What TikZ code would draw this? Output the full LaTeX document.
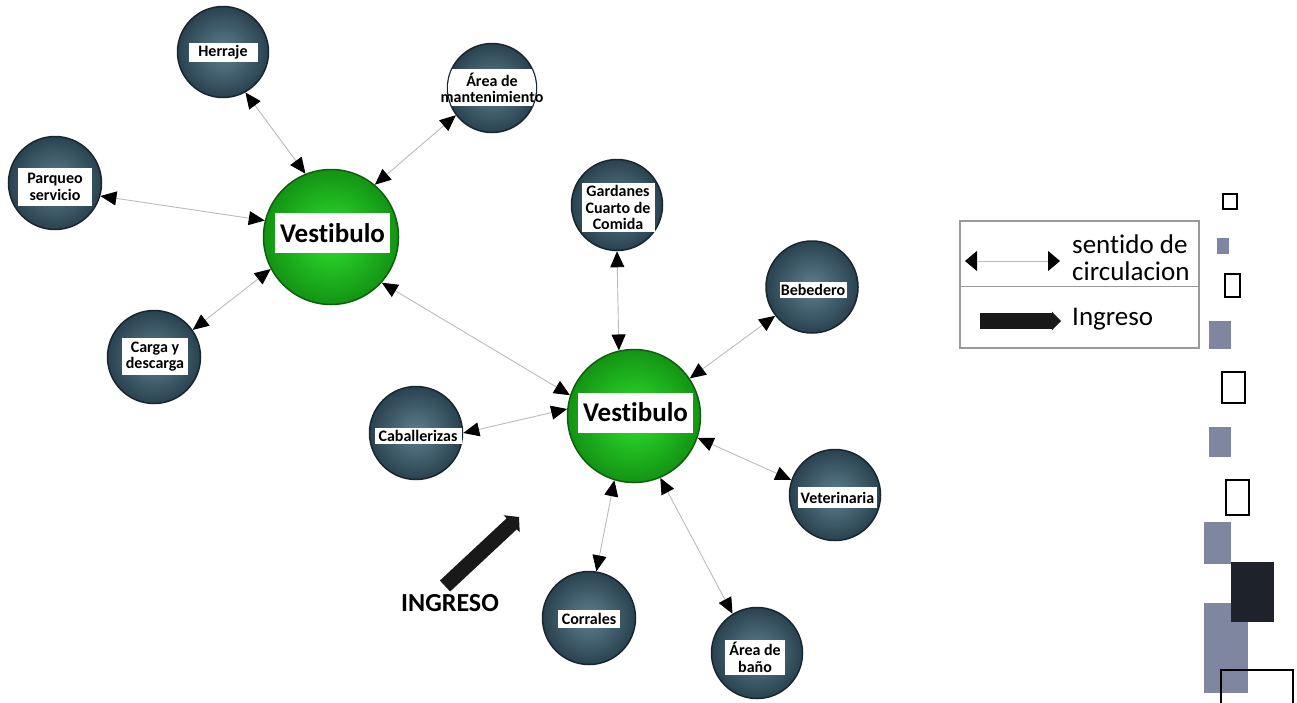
\documentclass[tikz,border=0pt]{standalone}
\usepackage{fontspec}
\setmainfont{Carlito}[Ligatures=NoCommon]
\usetikzlibrary{arrows.meta}
\definecolor{slateIn}{HTML}{5E808F}
\definecolor{slateOut}{HTML}{2A4250}
\definecolor{slateLine}{HTML}{1A262E}
\definecolor{greenIn}{HTML}{2FE02F}
\definecolor{greenOut}{HTML}{139413}
\definecolor{greenLine}{HTML}{0E5E0E}
\definecolor{connGray}{HTML}{BBBBBB}
\definecolor{legGray}{HTML}{9A9A9A}
\definecolor{decoGray}{HTML}{7F87A0}
\definecolor{decoDark}{HTML}{1E232B}
\begin{document}
\begin{tikzpicture}[x=1pt,y=-1pt,
  room/.style={circle, minimum size=#1, inner sep=0pt, draw=slateLine, line width=1.5pt,
    shading=radial, inner color=slateIn, outer color=slateOut},
  hub/.style={circle, minimum size=#1, inner sep=0pt, draw=greenLine, line width=1.5pt,
    shading=radial, inner color=greenIn, outer color=greenOut},
  tag/.style={fill=white, inner sep=0pt, align=center, font=\fontsize{16}{16.5}\selectfont\bfseries},
  hubtag/.style={fill=white, inner sep=0pt, minimum width=115pt, minimum height=40pt,
    font=\fontsize{27}{29}\selectfont\bfseries},
  conn/.style={draw=connGray, line width=0.9pt,
    {Triangle[length=16pt,width=14pt,color=black]}-{Triangle[length=16pt,width=14pt,color=black]}},
  deco/.style={draw=black, line width=2.2pt},
]
\useasboundingbox (0,0) rectangle (1297,702);

% circles
\node[room=91pt] (herraje) at (223,52) {};
\node[room=89pt] (mant) at (492,88) {};
\node[hub=135pt] (v1) at (331,237) {};
\node[room=93pt] (parq) at (55,183) {};
\node[room=93pt] (carga) at (154,357) {};
\node[room=91pt] (gard) at (617,205) {};
\node[hub=133pt] (v2) at (634,416) {};
\node[room=93pt] (cab) at (416,433) {};
\node[room=92pt] (beb) at (812,287) {};
\node[room=91pt] (vet) at (835,495) {};
\node[room=93pt] (corr) at (589,618) {};
\node[room=91pt] (bano) at (757,653) {};

% white band of Area de mantenimiento
\begin{scope}
  \clip (mant.center) circle[radius=44pt];
  \fill[white] (440,69) rectangle (545,106);
\end{scope}

% labels
\node[tag, minimum width=69pt, minimum height=19pt] (herrajeT) at (223,52.5) {Herraje};
\node[tag, fill=none] (mantT) at (492,88) {Área de\\mantenimiento};
\node[tag, minimum width=74pt, minimum height=38pt] (parqT) at (55,187) {Parqueo\\servicio};
\node[tag, minimum width=66pt, minimum height=37pt] (cargaT) at (155,356.5) {Carga y\\descarga};
\node[tag, minimum width=73pt, minimum height=49pt] (gardT) at (618,207.5) {Gardanes\\Cuarto de\\Comida};
\node[tag, minimum width=87pt, minimum height=16pt] (cabT) at (418,435.5) {Caballerizas};
\node[tag, minimum width=67pt, minimum height=16pt] (bebT) at (813,289.5) {Bebedero};
\node[tag, minimum width=79pt, minimum height=21pt] (vetT) at (837.5,497.5) {Veterinaria};
\node[tag, minimum width=62pt, minimum height=18pt] (corrT) at (589,619) {Corrales};
\node[tag, minimum width=60pt, minimum height=35pt] (banoT) at (755,657.5) {Área de\\baño};
\node[hubtag] (v1T) at (332.5,233) {Vestibulo};
\node[hubtag] (v2T) at (635.5,412.5) {Vestibulo};

% connectors
\draw[conn] (herraje.-61) -- (v1.112);
\draw[conn] (mant.217) -- (v1.50);
\draw[conn] (parq.-16) -- (v1.166);
\draw[conn] (carga.35) -- (v1.208);
\draw[conn] (v1.-42) -- (v2.162);
\draw[conn] (gard.-90) -- (v2.103);
\draw[conn] (beb.218) -- (v2.34);
\draw[conn] (cab.0) -- (v2.174);
\draw[conn] (vet.161) -- (v2.-19);
\draw[conn] (corr.81) -- (v2.-107);
\draw[conn] (bano.122) -- (v2.-67);

% ingreso arrow
\coordinate (ingA) at (445,586);
\coordinate (ingB) at (519,517);
\draw[line width=15pt, draw=black!90, -{Triangle[length=10pt,width=23pt]}] (ingA) -- (ingB);
\node[font=\fontsize{26}{28}\selectfont\bfseries, inner sep=0pt] (ingT) at (450,603) {INGRESO};

% legend
\node[draw=legGray, line width=1.2pt, minimum width=239pt, minimum height=127pt, inner sep=0pt] (legend) at (1079.5,284.5) {};
\draw[legGray, line width=1pt] (legend.west |- 0,286) -- (legend.east |- 0,286);
\coordinate (lgA) at (965,261);
\coordinate (lgB) at (1060,261);
\draw[draw=connGray, line width=0.8pt,
  {Triangle[length=12pt,width=20pt,color=black]}-{Triangle[length=12pt,width=20pt,color=black]}] (lgA) -- (lgB);
\node[anchor=west, align=left, font=\fontsize{27}{27}\selectfont, inner sep=0pt] (lgT1) at (1072,258) {sentido de\\circulacion};
\coordinate (lgC) at (980,321);
\coordinate (lgD) at (1061,321);
\draw[line width=16pt, draw=black!90, -{Triangle[length=9pt,width=18pt]}] (lgC) -- (lgD);
\node[anchor=west, font=\fontsize{27}{27}\selectfont, inner sep=0pt] (lgT2) at (1072,319) {Ingreso};

% right-hand squares
\draw[deco] (1223,194) rectangle (1237,209);
\fill[decoGray] (1217,238) rectangle (1229,254);
\draw[deco] (1225,274) rectangle (1240,297);
\fill[decoGray] (1209,321) rectangle (1231,349);
\draw[deco] (1222,372) rectangle (1245,403);
\fill[decoGray] (1209,427) rectangle (1231,457);
\draw[deco] (1226,480) rectangle (1249,515);
\fill[decoGray] (1204,522) rectangle (1231,564);
\fill[decoGray] (1204,603) rectangle (1248,693);
\fill[decoDark] (1231,562) rectangle (1274,622);
\draw[deco, line width=2.5pt] (1221,705) -- (1221,670) -- (1293,670) -- (1293,705);
\end{tikzpicture}
\end{document}
